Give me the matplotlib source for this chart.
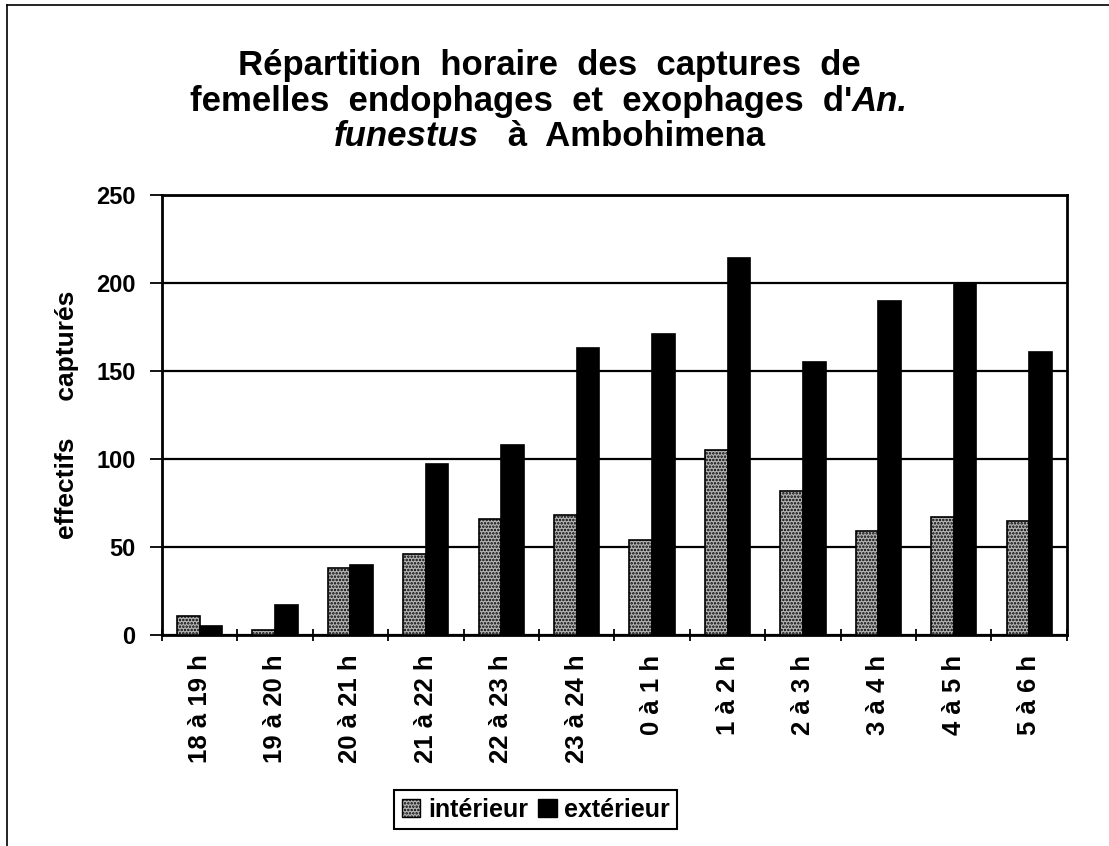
#!/usr/bin/env python

# Import libraries
import matplotlib
matplotlib.use('Agg')
import matplotlib.pyplot as plt
from matplotlib.patches import Patch
import numpy as np

plt.rcParams['font.family'] = ['Liberation Sans', 'DejaVu Sans']
plt.rcParams['hatch.linewidth'] = 1.2

# Data
hours = ['18 à 19 h', '19 à 20 h', '20 à 21 h', '21 à 22 h', '22 à 23 h', '23 à 24 h',
         '0 à 1 h', '1 à 2 h', '2 à 3 h', '3 à 4 h', '4 à 5 h', '5 à 6 h']
interieur = [11, 3, 38, 46, 66, 68, 54, 105, 82, 59, 67, 65]
exterieur = [5, 17, 40, 97, 108, 163, 171, 214, 155, 190, 200, 161]
y_ticks = [0, 50, 100, 150, 200, 250]


def put_line(fig, renderer, y, pieces, size):
    # Draw one title line made of (text, style) pieces, centred as a whole
    texts = []
    for txt, style in pieces:
        t = fig.text(0, y, txt, fontsize=size, fontweight='bold', fontstyle=style,
                     va='baseline', ha='left')
        texts.append(t)
    widths = [t.get_window_extent(renderer).width for t in texts]
    total = sum(widths)
    x = fig.bbox.width * 0.495 - total / 2
    for t, w in zip(texts, widths):
        t.set_x(x / fig.bbox.width)
        x += w


def plot_chart():
    fig = plt.figure(figsize=(11.09, 8.46), dpi=100)
    ax = fig.add_axes([0.146, 0.2494, 0.816, 0.5202])

    x = np.arange(len(hours))
    w = 0.3
    ax.bar(x - w / 2, interieur, w, facecolor='#b4b4b4', edgecolor='black',
           hatch='.....', linewidth=1.2, label='intérieur', zorder=3)
    ax.bar(x + w / 2, exterieur, w, color='black', edgecolor='black',
           linewidth=1.2, label='extérieur', zorder=3)

    ax.set_xlim(-0.5, len(hours) - 0.5)
    ax.set_ylim(0, 250)
    ax.set_yticks(y_ticks)
    ax.set_yticklabels([str(v) for v in y_ticks], fontsize=17, fontweight='bold')
    ax.yaxis.grid(True, color='black', linewidth=1.6, zorder=0)
    ax.set_axisbelow(True)

    ax.set_xticks(x)
    ax.set_xticklabels(hours, rotation=90, fontsize=18.5, fontweight='bold')
    ax.tick_params(axis='x', which='major', length=0, pad=14)
    ax.set_xticks(np.arange(len(hours) + 1) - 0.5, minor=True)
    ax.tick_params(axis='x', which='minor', length=8, direction='inout', width=1.3)
    ax.tick_params(axis='y', length=9, width=1.3, direction='out', pad=10)

    for sp in ax.spines.values():
        sp.set_linewidth(2)

    ax.set_ylabel('effectifs     capturés', fontsize=19, fontweight='bold')
    ax.yaxis.set_label_coords(-0.092, 0.5)

    # Title with italic species name
    renderer = fig.canvas.get_renderer()
    size = 25
    put_line(fig, renderer, 0.911, [('Répartition  horaire  des  captures  de', 'normal')], size)
    put_line(fig, renderer, 0.869, [("femelles  endophages  et  exophages  d'", 'normal'),
                                    ('An.', 'italic')], size)
    put_line(fig, renderer, 0.827, [('funestus', 'italic'), ('   à  Ambohimena', 'normal')], size)

    handles = [Patch(facecolor='#b4b4b4', edgecolor='black', hatch='.....'),
               Patch(facecolor='black', edgecolor='black')]
    leg = fig.legend(handles, ['intérieur', 'extérieur'], loc='center',
                     bbox_to_anchor=(0.483, 0.0426), ncol=2, fancybox=False,
                     edgecolor='black', framealpha=1, handlelength=0.75, handleheight=0.75,
                     handletextpad=0.3, columnspacing=0.4, borderpad=0.3,
                     prop={'size': 18, 'weight': 'bold'})
    leg.get_frame().set_linewidth(1.5)

    # Thin border along top and left edge like the scanned frame
    fig.add_artist(plt.Line2D([0.006, 0.006], [0, 0.994], color='black', lw=1.2,
                              transform=fig.transFigure))
    fig.add_artist(plt.Line2D([0.006, 1], [0.994, 0.994], color='black', lw=1.2,
                              transform=fig.transFigure))

    fig.savefig('out.png', dpi=100)


if __name__ == "__main__":
    plot_chart()
